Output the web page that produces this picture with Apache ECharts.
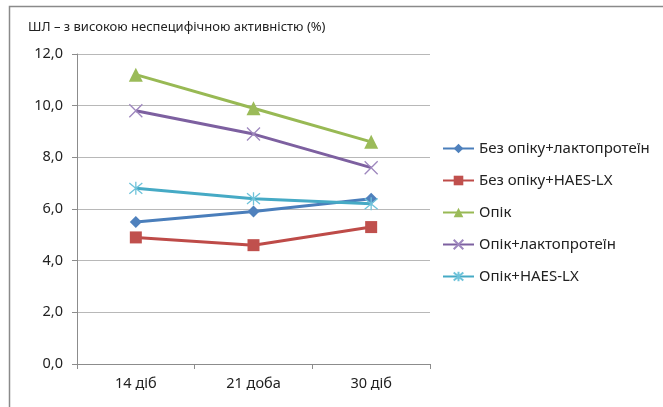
<!DOCTYPE html>
<html>
<head>
<meta charset="utf-8">
<script src="https://cdn.jsdelivr.net/npm/echarts@6/dist/echarts.min.js"></script>
<style>
	html, body { margin: 0; padding: 0; background: #fff; }
	#chart { width: 663px; height: 407px; }
</style>
</head>
<body>
<div id="chart"></div>
<script>
	// 数据
	const categories = ["14 діб", "21 доба", "30 діб"];
	const names = ["Без опіку+лактопротеїн", "Без опіку+HAES-LX", "Опік", "Опік+лактопротеїн", "Опік+HAES-LX"];
	const bezLakto = [5.5, 5.9, 6.4];
	const bezHaes = [4.9, 4.6, 5.3];
	const opik = [11.2, 9.9, 8.6];
	const opikLakto = [9.8, 8.9, 7.6];
	const opikHaes = [6.8, 6.4, 6.2];
	const yTicks = [0, 2, 4, 6, 8, 10, 12];

	const font = "'Noto Sans', sans-serif";
	const colorArr = ["#4A7EBB", "#BE4B48", "#98B954", "#7D60A0", "#46AAC5"];
	const markColor = ["#4F81BD", "#C0504D", "#9BBB59", "#9E87BE", "#6FC3DA"];

	// 符号
	const crossPath = "path://M0,0L10,10M10,0L0,10";
	const starPath = "path://M0,0L10,10M10,0L0,10M5,-1L5,11";

	function mkSeries(i, data, symbol, size, stroke) {
		return {
			name: names[i],
			type: "line",
			data: data,
			symbol: symbol,
			symbolSize: size,
			lineStyle: { color: colorArr[i], width: 3 },
			itemStyle: stroke ? {
				color: "rgba(0,0,0,0)",
				borderColor: markColor[i],
				borderWidth: 1.3
			} : { color: markColor[i], borderWidth: 0 },
			emphasis: { disabled: true },
			z: 3
		};
	}

	const myChart = echarts.init(document.getElementById("chart"));
	const option = {
		animation: false,
		textStyle: { fontFamily: font },
		title: {
			text: "ШЛ – з високою неспецифічною активністю (%)",
			left: 23,
			top: 16,
			textStyle: { fontFamily: font, fontSize: 13, fontWeight: "normal", color: "#222" }
		},
		graphic: [{
			type: "rect",
			shape: { x: 9.5, y: 6.5, width: 700, height: 500 },
			style: { fill: "none", stroke: "#8a8a8a", lineWidth: 1.5 },
			silent: true
		}],
		legend: {
			data: names,
			orient: "vertical",
			left: 437,
			top: 136,
			itemGap: 17,
			itemWidth: 31,
			itemHeight: 12,
			textStyle: { fontFamily: font, fontSize: 15, color: "#222" }
		},
		grid: { left: 77, right: 233, top: 54, bottom: 43 },
		xAxis: {
			type: "category",
			data: categories,
			boundaryGap: true,
			axisLine: { lineStyle: { color: "#8c8c8c", width: 1 } },
			axisTick: { show: true, length: 5, lineStyle: { color: "#8c8c8c" } },
			axisLabel: { color: "#222", fontSize: 14.5, margin: 12, fontFamily: font }
		},
		yAxis: {
			type: "value",
			min: yTicks[0],
			max: yTicks[yTicks.length - 1],
			interval: 2,
			axisLine: { show: true, lineStyle: { color: "#8c8c8c", width: 1 } },
			axisTick: { show: true, length: 5, lineStyle: { color: "#8c8c8c" } },
			axisLabel: {
				color: "#222",
				fontSize: 14.5,
				margin: 14,
				fontFamily: font,
				formatter: v => v.toFixed(1).replace(".", ",")
			},
			splitLine: { lineStyle: { color: "#b8b8b8", width: 1 } }
		},
		series: [
			mkSeries(0, bezLakto, "diamond", 12, false),
			mkSeries(1, bezHaes, "rect", 12, false),
			mkSeries(2, opik, "triangle", 14, false),
			mkSeries(3, opikLakto, crossPath, 13, true),
			mkSeries(4, opikHaes, starPath, 13, true)
		]
	};
	myChart.setOption(option);
</script>
</body>
</html>
